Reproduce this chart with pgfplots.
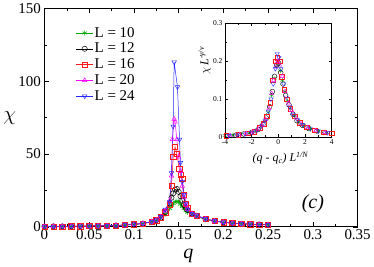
\documentclass[border=0pt]{standalone}
\usepackage{pgfplots}
\pgfplotsset{compat=1.18}
\usepackage{fontspec}
\setmainfont{Liberation Serif}
\definecolor{cgreen}{rgb}{0.0,0.65,0.0}
\definecolor{cmag}{rgb}{1.0,0.0,1.0}
\definecolor{cred}{rgb}{1.0,0.1,0.1}
\definecolor{cblue}{rgb}{0.15,0.15,1.0}
\begin{document}
\begin{tikzpicture}
\begin{axis}[
  at={(0,0)}, anchor=south west,
  scale only axis, width=314pt, height=219pt,
  xmin=0, xmax=0.35, ymin=0, ymax=150,
  xtick={0,0.05,0.1,0.15,0.2,0.25,0.3,0.35},
  xticklabels={0,0.05,0.1,0.15,0.2,0.25,0.3,0.35},
  ytick={0,50,100,150},
  minor x tick num=1, minor y tick num=1,
  tick align=inside,
  major tick length=5pt, minor tick length=3pt,
  tick style={black, line width=0.5pt},
  axis line style={line width=0.6pt},
  /pgf/number format/assume math mode=true,
  ticklabel style={font=\fontsize{15}{15}\selectfont},
  xticklabel style={yshift=1pt},
  xlabel={\fontsize{20}{20}\selectfont\itshape q},
  ylabel={\fontsize{22}{22}\selectfont $\chi$},
  xlabel style={at={(axis description cs:0.46,0)}, anchor=north, yshift=-19pt},
  ylabel style={at={(axis description cs:-0.111,0.5)}, rotate=-90, anchor=center},
  legend style={at={(0.10,0.92)}, anchor=north west, draw=none, fill=none,
    font=\fontsize{15}{15}\selectfont, row sep=2pt, inner sep=0pt,
    nodes={inner sep=1.2pt}},
  legend cell align=left,
  every axis plot/.append style={line width=0.5pt},
  mark size=2.6pt,
]
\addplot[color=cgreen, mark=asterisk] coordinates {
(0,0.2)(0.01,0.2)(0.02,0.3)(0.03,0.3)(0.04,0.4)(0.05,0.5)(0.06,0.6)(0.07,0.7)(0.08,0.9)(0.09,1.2)(0.1,1.6)(0.11,2.2)(0.12,3.3)(0.125,4.3)(0.13,5.8)(0.135,8.5)(0.14,12.5)(0.142,14.5)(0.144,16)(0.146,17)(0.148,17.5)(0.15,17)(0.152,15.5)(0.154,14)(0.156,12.5)(0.158,11)(0.16,10)(0.165,8.5)(0.17,7)(0.18,5)(0.19,3.8)(0.2,3)(0.21,2.5)(0.22,2.1)(0.23,1.8)(0.24,1.6)(0.25,1.4)};
\addlegendentry{L = 10}
\addplot[color=black, mark=o] coordinates {
(0,0.2)(0.01,0.3)(0.02,0.3)(0.03,0.3)(0.04,0.4)(0.05,0.5)(0.06,0.6)(0.07,0.7)(0.08,0.9)(0.09,1.2)(0.1,1.6)(0.11,2.2)(0.12,3.4)(0.125,4.5)(0.13,6.2)(0.135,10)(0.14,16)(0.142,20)(0.144,23)(0.146,25.5)(0.148,26)(0.15,24)(0.152,21)(0.154,18)(0.156,15)(0.158,13)(0.16,11.5)(0.165,9)(0.17,7.5)(0.18,5.3)(0.19,4)(0.2,3.1)(0.21,2.5)(0.22,2.1)(0.23,1.8)(0.24,1.6)(0.25,1.4)};
\addlegendentry{L = 12}
\addplot[color=cred, mark=square] coordinates {
(0,0.3)(0.01,0.3)(0.02,0.3)(0.03,0.4)(0.04,0.4)(0.05,0.5)(0.06,0.6)(0.07,0.7)(0.08,0.9)(0.09,1.2)(0.1,1.7)(0.11,2.3)(0.12,3.4)(0.125,4.5)(0.13,6.5)(0.135,10)(0.14,15)(0.142,28)(0.144,48)(0.146,55)(0.148,50)(0.1506,40)(0.152,36)(0.154,33)(0.156,22)(0.158,16)(0.16,13)(0.165,9)(0.17,7.5)(0.18,5.4)(0.19,4)(0.2,3.1)(0.21,2.5)(0.22,2.1)(0.23,1.8)(0.24,1.6)(0.25,1.4)};
\addlegendentry{L = 16}
\addplot[color=cmag, mark=triangle] coordinates {
(0,0.3)(0.01,0.3)(0.02,0.3)(0.03,0.4)(0.04,0.4)(0.05,0.5)(0.06,0.6)(0.07,0.7)(0.08,0.9)(0.09,1.2)(0.1,1.7)(0.11,2.3)(0.12,3.5)(0.125,4.6)(0.13,6.8)(0.135,11)(0.14,18)(0.142,35)(0.143,60)(0.145,74)(0.146,72)(0.148,60)(0.15,48)(0.152,38)(0.154,28)(0.156,20)(0.158,15)(0.16,12)(0.165,9)(0.17,7.5)(0.18,5.4)(0.19,4)(0.2,3.1)(0.21,2.5)(0.22,2.1)(0.23,1.8)(0.24,1.6)(0.25,1.4)};
\addlegendentry{L = 20}
\addplot[color=cblue, mark=triangle, every mark/.append style={rotate=180}] coordinates {
(0,0.3)(0.01,0.3)(0.02,0.3)(0.03,0.4)(0.04,0.4)(0.05,0.5)(0.06,0.6)(0.07,0.7)(0.08,0.9)(0.09,1.2)(0.1,1.7)(0.11,2.3)(0.12,3.5)(0.125,4.6)(0.13,7)(0.135,12)(0.14,17)(0.142,37)(0.1438,69)(0.145,113)(0.1487,96)(0.151,60)(0.152,44)(0.154,31)(0.156,22)(0.158,16)(0.16,12)(0.165,9)(0.17,8)(0.18,5.5)(0.19,4)(0.2,3.1)(0.21,2.5)(0.22,2.1)(0.23,1.8)(0.24,1.6)(0.25,1.4)};
\addlegendentry{L = 24}
\node[font=\fontsize{20}{20}\selectfont\itshape] at (axis cs:0.300,16) {(c)};
\end{axis}
\begin{axis}[
  at={(181pt,90pt)}, anchor=south west,
  scale only axis, width=107pt, height=114pt,
  xmin=-4, xmax=4, ymin=0, ymax=0.3,
  xtick={-4,-2,0,2,4}, ytick={0,0.1,0.2,0.3},
  yticklabels={0,0.1,0.2,0.3},
  minor x tick num=1, minor y tick num=1,
  tick align=inside,
  major tick length=3pt, minor tick length=2pt,
  tick style={black, line width=0.4pt},
  axis line style={line width=0.6pt},
  /pgf/number format/assume math mode=true,
  ticklabel style={font=\fontsize{7.5}{7.5}\selectfont},
  xticklabel style={yshift=1pt},
  yticklabel style={xshift=1pt},
  xlabel={\fontsize{12}{12}\selectfont\itshape (q - q\textsubscript{c}) L\textsuperscript{1/N}},
  ylabel={\fontsize{12}{12}\selectfont $\chi$\,\itshape L\textsuperscript{-γ/ν}},
  xlabel style={at={(axis description cs:0.52,0)}, anchor=center, yshift=-21pt},
  ylabel style={at={(axis description cs:-0.19,0.67)}, anchor=center},
  mark size=2.4pt,
]
\addplot[only marks, color=cgreen, mark=asterisk] coordinates {
(-4,0.004)(-3.4,0.005)(-2.8,0.007)(-2.2,0.010)(-1.7,0.016)(-1.3,0.027)(-1.0,0.042)(-0.75,0.065)(-0.5,0.11)(-0.3,0.155)(-0.15,0.185)(0,0.19)(0.15,0.175)(0.3,0.15)(0.5,0.12)(0.7,0.095)(0.9,0.075)(1.2,0.055)(1.5,0.04)(1.9,0.03)(2.4,0.021)(3.0,0.015)(3.6,0.011)};
\addplot[only marks, color=black, mark=o] coordinates {
(-3.8,0.004)(-3.2,0.005)(-2.6,0.008)(-2.0,0.012)(-1.5,0.02)(-1.15,0.033)(-0.9,0.05)(-0.65,0.08)(-0.45,0.12)(-0.28,0.16)(-0.12,0.19)(0.02,0.195)(0.18,0.17)(0.35,0.14)(0.55,0.11)(0.8,0.085)(1.1,0.06)(1.4,0.043)(1.8,0.031)(2.3,0.022)(2.9,0.016)(3.5,0.012)};
\addplot[only marks, color=cred, mark=square] coordinates {
(-3.9,0.004)(-3.0,0.006)(-2.3,0.01)(-1.8,0.015)(-1.4,0.024)(-1.1,0.036)(-0.85,0.055)(-0.6,0.09)(-0.4,0.15)(-0.2,0.2)(-0.08,0.21)(0.1,0.2)(0.25,0.16)(0.45,0.125)(0.65,0.1)(0.9,0.075)(1.2,0.055)(1.6,0.038)(2.1,0.026)(2.7,0.018)(3.4,0.013)(4.0,0.01)};
\addplot[only marks, color=cmag, mark=triangle] coordinates {
(-3.6,0.004)(-2.9,0.006)(-2.4,0.009)(-1.9,0.014)(-1.5,0.021)(-1.2,0.031)(-0.95,0.046)(-0.7,0.075)(-0.5,0.115)(-0.35,0.15)(-0.2,0.185)(-0.05,0.2)(0.1,0.19)(0.3,0.16)(0.5,0.12)(0.75,0.09)(1.0,0.07)(1.35,0.05)(1.7,0.035)(2.2,0.025)(2.8,0.017)(3.5,0.012)};
\addplot[only marks, color=cblue, mark=triangle, every mark/.append style={rotate=180}] coordinates {
(-3.7,0.004)(-3.1,0.005)(-2.5,0.008)(-2.0,0.012)(-1.6,0.018)(-1.25,0.029)(-1.0,0.043)(-0.75,0.068)(-0.55,0.1)(-0.38,0.14)(-0.22,0.18)(-0.08,0.22)(0.05,0.21)(0.2,0.18)(0.4,0.14)(0.6,0.105)(0.85,0.08)(1.1,0.06)(1.45,0.045)(1.85,0.032)(2.4,0.022)(3.0,0.016)(3.7,0.011)};
\end{axis}
\end{tikzpicture}
\end{document}
